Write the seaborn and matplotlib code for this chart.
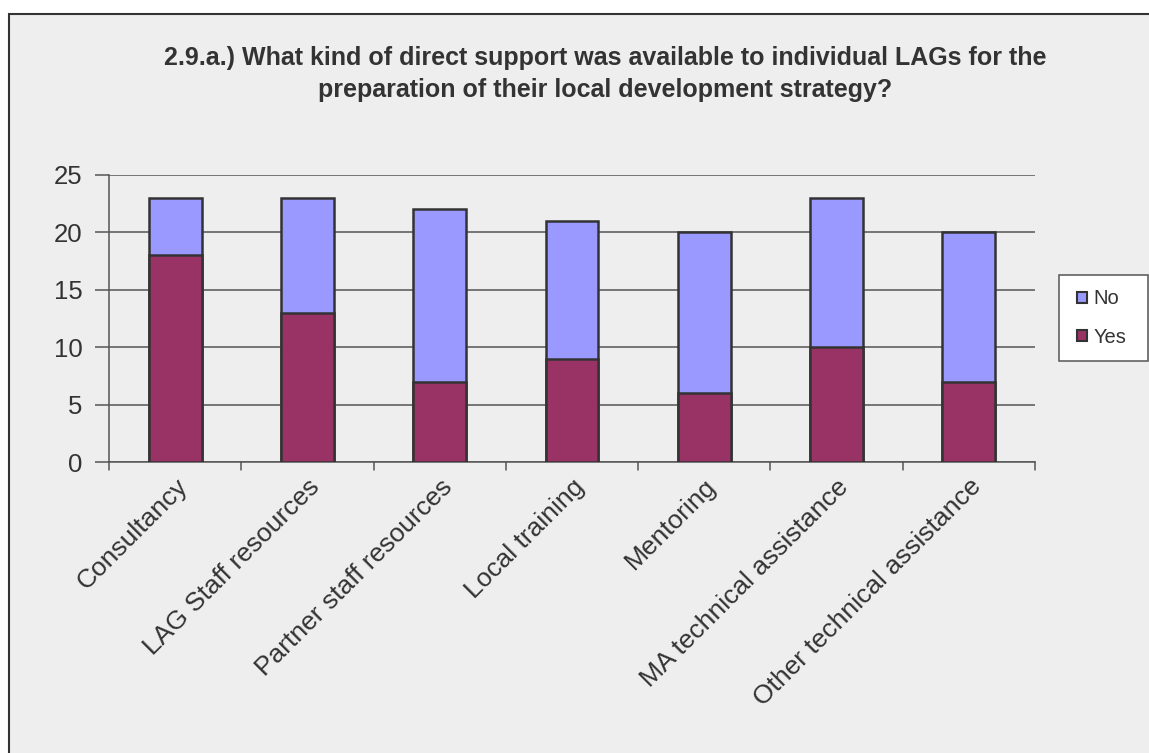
import matplotlib
matplotlib.use("Agg")
import matplotlib.pyplot as plt
import matplotlib.patches as mpatches
import seaborn as sns
import pandas as pd

categories = ["Consultancy", "LAG Staff resources", "Partner staff resources",
              "Local training", "Mentoring", "MA technical assistance",
              "Other technical assistance"]
yes_counts = [18, 13, 7, 9, 6, 10, 7]
no_counts = [5, 10, 15, 12, 14, 13, 13]
y_ticks = [0, 5, 10, 15, 20, 25]

title = ("2.9.a.) What kind of direct support was available to individual LAGs for the\n"
         "preparation of their local development strategy?")

df = pd.DataFrame({"category": categories, "Yes": yes_counts, "No": no_counts})
df["total"] = df["Yes"] + df["No"]

sns.set_theme(style="white")
plt.rcParams["font.family"] = ["Liberation Sans", "DejaVu Sans"]

bg = "#eeeeee"
text_c = "#333333"
edge_c = "#333333"
yes_c = "#993366"
no_c = "#9999ff"

W, H = 1149, 753
fig = plt.figure(figsize=(W / 100, H / 100), dpi=100, facecolor="white")

# chart frame: grey panel with a dark border along the top and left
frame = mpatches.Rectangle((9 / W, -0.05), 1.1, 1 - 14 / H + 0.05,
                           transform=fig.transFigure, facecolor=bg,
                           edgecolor=edge_c, linewidth=1.5, zorder=-10)
fig.patches.append(frame)

ax = fig.add_axes([109 / W, 1 - 462 / H, (1035 - 109) / W, (462 - 175) / H])
ax.set_facecolor("none")
ax.set_zorder(2)

sns.barplot(data=df, x="category", y="total", color=no_c, width=0.4,
            edgecolor=edge_c, linewidth=1.8, saturation=1, ax=ax, zorder=3)
sns.barplot(data=df, x="category", y="Yes", color=yes_c, width=0.4,
            edgecolor=edge_c, linewidth=1.8, saturation=1, ax=ax, zorder=4)

ax.set_ylim(0, 25)
ax.set_xlim(-0.5, len(categories) - 0.5)
ax.set_yticks(y_ticks)
ax.set_yticklabels([str(v) for v in y_ticks], fontsize=18.5, color=text_c)
ax.yaxis.grid(True, color="#555555", linewidth=1.1, zorder=1)
ax.set_axisbelow(True)

ax.set_xticks(range(len(categories)))
ax.set_xticklabels(categories, rotation=45, ha="right", rotation_mode="anchor",
                   fontsize=19, color=text_c)
ax.tick_params(axis="x", length=0, pad=9)
ax.tick_params(axis="y", length=10, width=1.1, color="#555555", left=True, pad=9)
# category separator ticks on the x axis
for b in [i - 0.5 for i in range(len(categories) + 1)]:
    ax.plot([b, b], [0, -0.028], transform=ax.get_xaxis_transform(),
            color="#555555", linewidth=1.1, clip_on=False)

ax.set_xlabel("")
ax.set_ylabel("")
for s in ["top", "right"]:
    ax.spines[s].set_visible(False)
for s in ["left", "bottom"]:
    ax.spines[s].set_color("#555555")
    ax.spines[s].set_linewidth(1.1)

fig.text(605 / W, 1 - 74 / H, title, ha="center", va="center", fontsize=18,
         fontweight="bold", color=text_c, linespacing=1.4)

# legend box (white panel) with the entries placed inside it
legend_box = mpatches.Rectangle((1059 / W, 1 - 361 / H), 89 / W, 86 / H,
                                transform=fig.transFigure, facecolor="white",
                                edgecolor="#555555", linewidth=1.1, zorder=4)
fig.patches.append(legend_box)

handles = [mpatches.Patch(facecolor=no_c, edgecolor=edge_c, linewidth=1.5, label="No"),
           mpatches.Patch(facecolor=yes_c, edgecolor=edge_c, linewidth=1.5, label="Yes")]
leg = fig.legend(handles=handles, loc="center left",
                 bbox_to_anchor=(1077 / W, 1 - 318 / H), frameon=False,
                 fontsize=14.5, handlelength=0.5, handleheight=0.5,
                 handletextpad=0.3, labelspacing=0.95, borderpad=0,
                 borderaxespad=0, labelcolor=text_c)
leg.set_zorder(5)

fig.savefig("out.png", dpi=100, facecolor="white")
